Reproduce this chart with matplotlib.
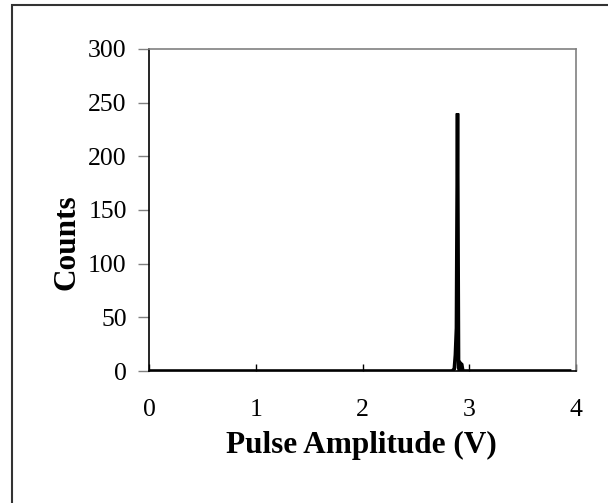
import matplotlib.pyplot as plt
import numpy as np
from matplotlib.patches import Rectangle

plt.rcParams['font.family'] = ['Liberation Serif', 'DejaVu Serif']

# pulse height spectrum, 0.01 V bins
amplitude = np.round(np.arange(0.0, 3.95, 0.01), 2)
counts = np.zeros_like(amplitude)
peak_bins = [2.85, 2.86, 2.87, 2.88, 2.89, 2.90, 2.91, 2.92, 2.93, 2.94]
peak_counts = [1, 2, 15, 40, 240, 3, 0, 7, 6, 0]
for b, c in zip(peak_bins, peak_counts):
    counts[np.isclose(amplitude, b)] = c

x_ticks = [0, 1, 2, 3, 4]
y_ticks = [0, 50, 100, 150, 200, 250, 300]

fig = plt.figure(figsize=(6.08, 5.03), dpi=100)
ax = fig.add_axes([149 / 608, 1 - 371 / 503, 427 / 608, 322 / 503])

ax.plot(amplitude, counts, color='black', lw=2.6, solid_joinstyle='miter')

ax.set_xlim(0, 4)
ax.set_ylim(0, 300)
ax.set_xticks(x_ticks)
ax.set_yticks(y_ticks)
ax.tick_params(axis='x', direction='in', length=5, width=1, pad=20, labelsize=18.5)
ax.tick_params(axis='y', direction='out', length=8, width=1, color='#808080',
               pad=8, labelsize=18.5)

for side in ['top', 'right']:
    ax.spines[side].set_color('#808080')
    ax.spines[side].set_linewidth(1.2)
for side in ['left', 'bottom']:
    ax.spines[side].set_color('black')
    ax.spines[side].set_linewidth(1.2)

ax.set_xlabel('Pulse Amplitude (V)', fontsize=22.5, fontweight='bold', va='center')
ax.xaxis.set_label_coords(0.497, -0.232)
ax.set_ylabel('Counts', fontsize=22.5, fontweight='bold', va='center')
ax.yaxis.set_label_coords(-0.193, 0.40)

# outer chart frame
fig.patches.append(Rectangle((12 / 608, -0.1), 1.2, (503 - 5) / 503 + 0.1,
                             transform=fig.transFigure, fill=False,
                             edgecolor='#333333', lw=1.5))

fig.savefig('out.png', dpi=100)
